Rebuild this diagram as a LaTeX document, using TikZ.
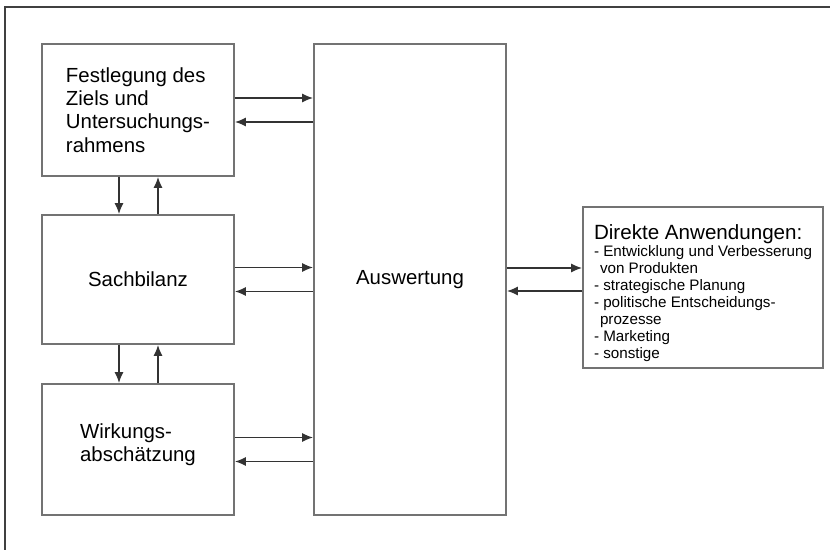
\documentclass[tikz,border=0pt]{standalone}
\usepackage{fontspec}
\setmainfont{Liberation Sans}
\usetikzlibrary{arrows.meta}
\newcommand\gross{\fontsize{10.3}{8.5}\selectfont}

\begin{document}
\begin{tikzpicture}[x=0.5pt,y=-0.5pt,
		kasten/.style={draw=black!55, line width=0.9pt, fill=white, align=left, inner sep=0pt,
			font=\fontsize{10.2}{11.6}\selectfont},
		pfeil/.style={draw=black!80, line width=0.7pt, -{Latex[length=5.5pt,width=4.5pt]}}]
		%RAHMEN
		\useasboundingbox (0,0) rectangle (830,550);
		\draw[black!75, line width=1pt] (5,550) -- (5,7) -- (830,7);

		%KAESTEN
		\node[kasten, minimum width=96pt, minimum height=66pt] (ziel) at (138,110)
			{Festlegung des\\Ziels und\\Untersuchungs-\\rahmens};
		\node[kasten, minimum width=96pt, minimum height=64.5pt] (sach) at (138,279.5)
			{Sachbilanz};
		\node[kasten, minimum width=96pt, minimum height=65.5pt] (wirk) at (138,449.5)
			{Wirkungs-\\abschätzung\rule[-6.5pt]{0pt}{6.5pt}};
		\node[kasten, minimum width=96pt, minimum height=235.5pt] (ausw) at (410,279.5)
			{Auswertung};
		\node[kasten, minimum width=120pt, minimum height=80.5pt,
			font=\fontsize{7.6}{8.5}\selectfont] (anw) at (703,287.5)
			{\gross\rule{0pt}{13.5pt}Direkte Anwendungen:\\
			- Entwicklung und Verbesserung\\
			\hspace*{3pt}von Produkten\\
			- strategische Planung\\
			- politische Entscheidungs-\\
			\hspace*{3pt}prozesse\\
			- Marketing\\
			- sonstige};

		%PFEILE ZUR AUSWERTUNG
		\foreach \b in {ziel,sach,wirk}{
			\draw[pfeil] ([yshift=6pt]\b.east) -- ([yshift=6pt]\b.east -| ausw.west);
			\draw[pfeil] ([yshift=-6pt]\b.east -| ausw.west) -- ([yshift=-6pt]\b.east);
		}

		%PFEILE ZWISCHEN DEN PHASEN
		\draw[pfeil] ([xshift=-9.5pt]ziel.south) -- ([xshift=-9.5pt]ziel.south |- sach.north);
		\draw[pfeil] ([xshift=10pt]sach.north) -- ([xshift=10pt]sach.north |- ziel.south);
		\draw[pfeil] ([xshift=-9.5pt]sach.south) -- ([xshift=-9.5pt]sach.south |- wirk.north);
		\draw[pfeil] ([xshift=10pt]wirk.north) -- ([xshift=10pt]wirk.north |- sach.south);

		%ANWENDUNGEN
		\draw[pfeil] ([yshift=5.75pt]ausw.east) -- ([yshift=5.75pt]ausw.east -| anw.west);
		\draw[pfeil] ([yshift=-5.75pt]ausw.east -| anw.west) -- ([yshift=-5.75pt]ausw.east);
	\end{tikzpicture}
\end{document}
